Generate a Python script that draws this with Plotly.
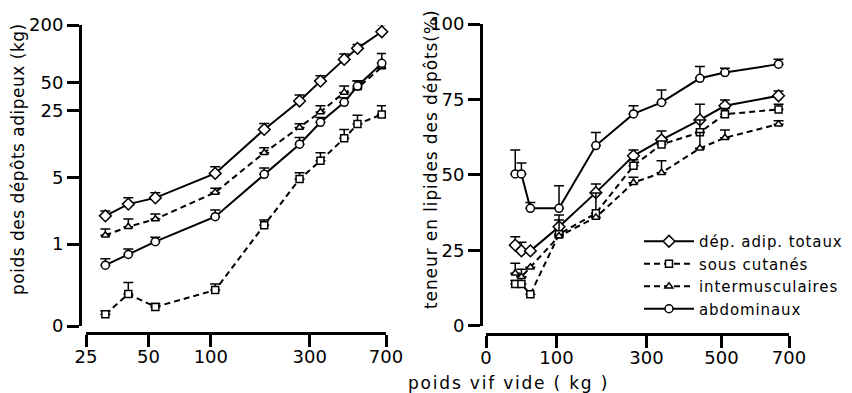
import numpy as np
import plotly.graph_objects as go

# ---------------- data ----------------
weight_kg = [31, 40, 54, 105, 181, 268, 338, 440, 510, 668]

# left panel: weight of fat depots (kg) and top of error bar
total_kg = [1.98, 2.63, 3.06, 5.53, 16.0, 31.8, 51.5, 87.1, 113.7, 169.8]
total_kg_up = [2.22, 3.06, 3.46, 6.48, 18.5, 36.7, 58.6, 99.0, 125.0, 203.0]
subcut_kg = [0.183, 0.299, 0.219, 0.329, 1.58, 4.82, 7.50, 12.9, 18.2, 23.0]
subcut_kg_up = [0.198, 0.396, 0.238, 0.380, 1.79, 5.61, 9.10, 16.0, 22.6, 28.4]
inter_kg = [1.24, 1.52, 1.83, 3.49, 9.1, 16.8, 24.4, 39.2, 43.5, 72.3]
inter_kg_up = [1.44, 1.83, 2.07, 3.87, 10.3, 18.4, 28.4, 45.7, 51.9, 72.3]
abdo_kg = [0.60, 0.78, 1.06, 1.94, 5.40, 11.2, 19.0, 30.8, 45.7, 79.1]
abdo_kg_up = [0.70, 0.886, 1.18, 2.28, 6.29, 13.2, 21.4, 34.4, 51.5, 100.7]

# right panel: lipid content of depots (%) and top of error bar
total_pct = [26.7, 24.8, 24.8, 32.8, 44.1, 56.3, 61.6, 68.2, 72.9, 76.2]
total_pct_up = [29.5, 27.7, 24.8, 36.7, 47.0, 58.2, 64.5, 73.4, 74.8, 77.8]
subcut_pct = [13.8, 13.8, 10.4, 30.3, 37.3, 53.0, 60.1, 64.1, 70.1, 71.7]
subcut_pct_up = [15.0, 16.2, 10.4, 35.0, 44.0, 55.0, 61.0, 68.2, 72.0, 73.4]
inter_pct = [17.4, 16.2, 19.4, 29.7, 35.9, 47.4, 50.7, 58.8, 62.3, 66.8]
inter_pct_up = [20.7, 18.7, 19.4, 29.7, 35.9, 49.2, 54.7, 64.0, 64.9, 67.9]
abdo_pct = [50.3, 50.3, 38.9, 38.9, 59.7, 70.2, 74.0, 82.0, 83.9, 86.7]
abdo_pct_up = [58.2, 53.9, 40.8, 46.4, 64.0, 72.9, 78.1, 85.9, 85.3, 88.3]

left_x_ticks = [25, 50, 100, 300, 700]
left_y_ticks = [0, 1, 5, 25, 50, 200]
right_x_ticks = [0, 100, 300, 500, 700]
right_y_ticks = [0, 25, 50, 75, 100]

names = ["dép. adip. totaux", "sous cutanés", "intermusculaires", "abdominaux"]

# ---------------- scales ----------------
LOG_ZERO = 0.138          # where the broken log axis shows "0"
POW = 0.75                # power scale of the right-hand x axis


def pw(v):
    return np.power(np.asarray(v, dtype=float), POW)


# the page body has an 8px margin: the figure is drawn 8px in from the corner
OFF = 8
W, H = 852 - OFF, 393 - OFF
FONT = "DejaVu Sans"


def spaced(text, px):
    return f'<span style="letter-spacing:{px}px">{text}</span>'


styles = [
    dict(symbol="diamond", size=9, dash="solid"),
    dict(symbol="square", size=7, dash="6px,4px"),
    dict(symbol="triangle-up", size=7, dash="6px,4px"),
    dict(symbol="circle", size=8, dash="solid"),
]

left_series = [(total_kg, total_kg_up), (subcut_kg, subcut_kg_up),
               (inter_kg, inter_kg_up), (abdo_kg, abdo_kg_up)]
right_series = [(total_pct, total_pct_up), (subcut_pct, subcut_pct_up),
                (inter_pct, inter_pct_up), (abdo_pct, abdo_pct_up)]

fig = go.Figure()


def add(xv, yv, up, st, name, xa, ya, legend):
    yv = np.asarray(yv, float)
    err = np.asarray(up, float) - yv
    fig.add_trace(go.Scatter(
        x=xv, y=yv, mode="lines+markers", name=name, showlegend=legend,
        xaxis=xa, yaxis=ya, cliponaxis=False,
        line=dict(color="black", width=2, dash=st["dash"]),
        marker=dict(symbol=st["symbol"], size=st["size"], color="white",
                    line=dict(color="black", width=1.5)),
        error_y=dict(type="data", array=err, arrayminus=np.zeros_like(err),
                     symmetric=False, color="black", thickness=1.5, width=5),
    ))


for (yv, up), st, nm in zip(left_series, styles, names):
    add(weight_kg, yv, up, st, nm, "x", "y", False)
for (yv, up), st, nm in zip(right_series, styles, names):
    add(pw(weight_kg), yv, up, st, spaced(nm, 0.9), "x2", "y2", True)


def px_x(p):
    return (p - OFF) / W


def px_y(p):
    return 1 - (p - OFF) / H


axis_common = dict(showline=True, linecolor="black", linewidth=3,
                   ticks="outside", ticklen=12, tickwidth=3, tickcolor="black",
                   showgrid=False, zeroline=False, automargin=False,
                   tickfont=dict(family=FONT, size=18, color="black"))
xstand = dict(ticklabelstandoff=-6)

fig.update_layout(
    width=W, height=H, margin=dict(l=0, r=0, t=0, b=0),
    paper_bgcolor="white", plot_bgcolor="white",
    font=dict(family=FONT, color="black"),
    xaxis=dict(type="log", range=[np.log10(25), np.log10(700)],
               domain=[px_x(86), px_x(386)], anchor="free", position=px_y(333),
               tickvals=left_x_ticks, ticktext=[str(t) for t in left_x_ticks],
               **xstand, **axis_common),
    yaxis=dict(type="log", range=[np.log10(LOG_ZERO), np.log10(200)],
               domain=[px_y(326), px_y(25)], anchor="free", position=px_x(80),
               tickvals=[LOG_ZERO if t == 0 else t for t in left_y_ticks],
               ticktext=[str(t) for t in left_y_ticks], **axis_common),
    xaxis2=dict(range=[0, float(pw(700))],
                domain=[px_x(486), px_x(789)], anchor="free", position=px_y(334),
                tickvals=pw(right_x_ticks), ticktext=[str(t) for t in right_x_ticks],
                **xstand, **axis_common),
    yaxis2=dict(range=[0, 100],
                domain=[px_y(325.7), px_y(24)], anchor="free", position=px_x(481),
                tickvals=right_y_ticks, ticktext=[str(t) for t in right_y_ticks],
                **axis_common),
    legend=dict(x=px_x(639), y=px_y(225), xanchor="left", yanchor="top",
                bgcolor="rgba(0,0,0,0)", font=dict(family=FONT, size=15),
                itemwidth=50, tracegroupgap=0),
    annotations=[
        dict(text=spaced("poids des dépôts adipeux (kg)", 0.5), textangle=-90,
             x=px_x(18), y=px_y(159), xref="paper", yref="paper",
             xanchor="center", yanchor="middle",
             showarrow=False, font=dict(family=FONT, size=17)),
        dict(text=spaced("teneur en lipides des dépôts(%)", 0.9), textangle=-90,
             x=px_x(431), y=px_y(160), xref="paper", yref="paper",
             xanchor="center", yanchor="middle",
             showarrow=False, font=dict(family=FONT, size=17)),
        dict(text=spaced("poids vif vide ( kg )", 1.8),
             x=px_x(508), y=px_y(383), xref="paper", yref="paper",
             xanchor="center", yanchor="middle",
             showarrow=False, font=dict(family=FONT, size=17)),
    ],
)

fig.write_html("out.html")
